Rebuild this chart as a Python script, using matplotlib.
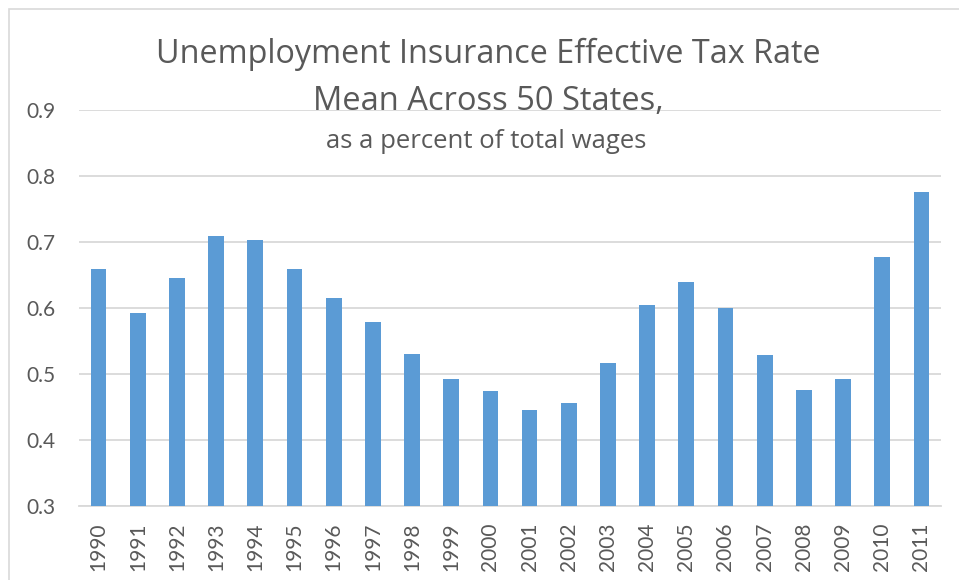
import matplotlib.pyplot as plt
from matplotlib.patches import Rectangle

# Mean UI effective tax rate across 50 states, percent of total wages
years = ['1990', '1991', '1992', '1993', '1994', '1995', '1996', '1997',
         '1998', '1999', '2000', '2001', '2002', '2003', '2004', '2005',
         '2006', '2007', '2008', '2009', '2010', '2011']
rates = [0.659, 0.592, 0.645, 0.709, 0.703, 0.659, 0.615, 0.579,
         0.530, 0.492, 0.474, 0.446, 0.456, 0.517, 0.605, 0.639,
         0.600, 0.529, 0.476, 0.492, 0.677, 0.776]
y_ticks = [0.3, 0.4, 0.5, 0.6, 0.7, 0.8, 0.9]

text_color = '#595959'
bar_color = '#5B9BD5'
grid_color = '#D9D9D9'

plt.rcParams['font.family'] = ['Lato', 'DejaVu Sans']
title_font = ['Open Sans', 'DejaVu Sans']

W, H = 959, 580
fig = plt.figure(figsize=(W / 100, H / 100), dpi=100)

# chart frame
fig.patches.append(Rectangle((9 / W, -0.02), 1.02, (H - 9) / H + 0.02,
                             transform=fig.transFigure, fill=False,
                             edgecolor='#D9D9D9', lw=1.2))

ax = fig.add_axes([79 / W, (H - 506) / H, (941 - 79) / W, (506 - 110) / H])
x = range(len(years))
ax.bar(x, rates, width=0.4, bottom=0, color=bar_color, zorder=3)
ax.set_xlim(-0.5, len(years) - 0.5)
ax.set_ylim(0.3, 0.9)
ax.set_yticks(y_ticks)
ax.set_yticklabels([f'{t:.1f}' for t in y_ticks])
ax.set_xticks(list(x))
ax.set_xticklabels(years, rotation=90)
ax.grid(axis='y', color=grid_color, lw=1.3, zorder=0)
for side in ['top', 'right', 'left']:
    ax.spines[side].set_visible(False)
ax.spines['bottom'].set_color(grid_color)
ax.spines['bottom'].set_linewidth(1.3)
ax.tick_params(axis='both', length=0, labelsize=15, colors=text_color)
ax.tick_params(axis='y', pad=17)
ax.tick_params(axis='x', pad=12)

fig.text(488 / W, 1 - 63 / H, 'Unemployment Insurance Effective Tax Rate',
         ha='center', va='baseline', fontsize=23.3, color=text_color,
         family=title_font)
fig.text(488 / W, 1 - 110 / H, 'Mean Across 50 States,',
         ha='center', va='baseline', fontsize=23.5, color=text_color,
         family=title_font)
fig.text(486 / W, 1 - 148 / H, 'as a percent of total wages',
         ha='center', va='baseline', fontsize=18.5, color=text_color,
         family=title_font)

fig.savefig('out.png', dpi=100)
